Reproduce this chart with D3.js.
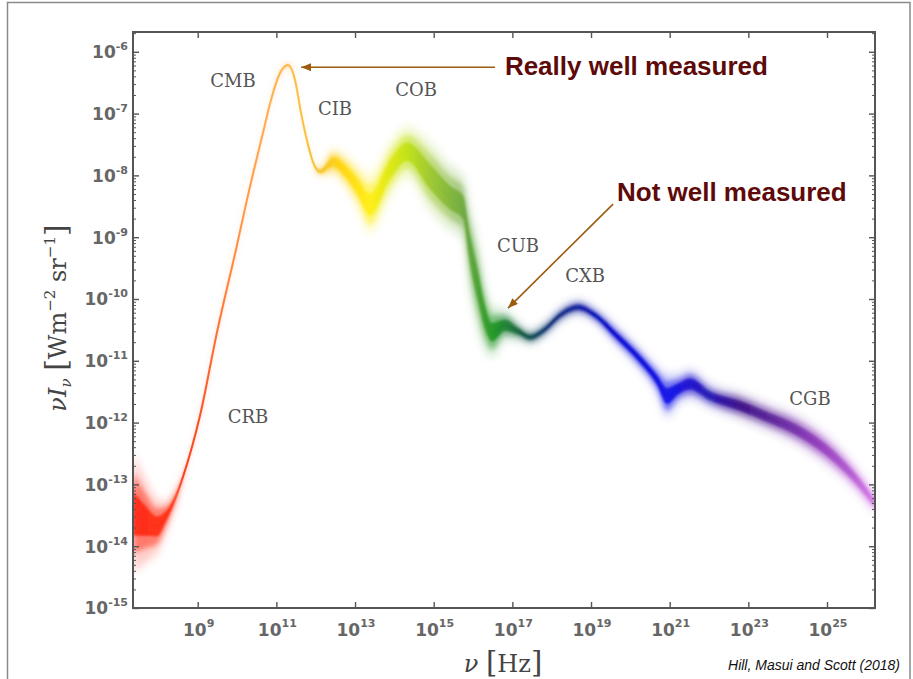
<!DOCTYPE html>
<html>
<head>
<meta charset="utf-8">
<script src="https://cdn.jsdelivr.net/npm/d3@7"></script>
<style>
  body { margin: 0; background: #fff; }
  svg { display: block; }
</style>
</head>
<body>
<svg id="chart" width="913" height="679"></svg>
<script>
// log10 of frequency [Hz]
const logNu = [7.355, 7.66, 7.965, 8.194, 8.423, 8.626, 9.058, 9.491, 9.974, 10.254,
  10.66, 10.864, 11.093, 11.296, 11.474, 11.627, 11.805, 11.957, 12.11, 12.44,
  12.745, 13.076, 13.381, 13.89, 14.322, 14.907, 15.415, 15.746, 15.924, 16.127,
  16.305, 16.483, 16.813, 17.144, 17.449, 17.83, 18.212, 18.669, 19.102, 19.661,
  20.17, 20.678, 20.933, 21.212, 21.517, 22.026, 22.789, 23.475, 24.314, 25.153,
  25.662, 26.22]
// log10 of nu I_nu [W m^-2 sr^-1], middle of the band
const logNuI = [-13.47, -13.585, -13.68, -13.52, -13.23, -12.876, -11.89, -10.537, -9.198, -8.392,
  -7.311, -6.779, -6.344, -6.215, -6.456, -6.989, -7.505, -7.827, -7.94, -7.779,
  -7.924, -8.198, -8.473, -7.908, -7.618, -8.021, -8.36, -8.521, -9.198, -9.795,
  -10.295, -10.537, -10.424, -10.521, -10.618, -10.489, -10.263, -10.134, -10.263, -10.602,
  -10.924, -11.311, -11.569, -11.456, -11.376, -11.569, -11.73, -11.908, -12.15, -12.537,
  -12.86, -13.311]
// half width of the band, in decades
const logErr = [0.65, 0.45, 0.29, 0.16, 0.08, 0.03, 0.02, 0.02, 0.02, 0.02,
  0.02, 0.02, 0.02, 0.02, 0.02, 0.02, 0.02, 0.02, 0.05, 0.145,
  0.18, 0.24, 0.32, 0.29, 0.27, 0.37, 0.35, 0.35, 0.45, 0.45,
  0.35, 0.27, 0.16, 0.1, 0.08, 0.08, 0.08, 0.08, 0.08, 0.1,
  0.11, 0.145, 0.23, 0.16, 0.16, 0.13, 0.145, 0.145, 0.16, 0.16,
  0.145, 0.13]

// colour ramp along frequency
const colorNu = [7.35, 8.3, 9.0, 9.8, 10.6, 11.3, 12.1, 12.6, 13.4, 14.3, 15.0, 15.8, 16.5,
  17.2, 17.9, 18.7, 19.6, 21.0, 22.0, 22.8, 23.8, 24.8, 25.6, 26.22]
const colorHex = ["#ff1500", "#ff2000", "#f84010", "#ff7a30", "#ffa040", "#ffb440", "#f5c020", "#ffd000",
  "#ffee00", "#bde000", "#90c020", "#5fa030", "#109010", "#0a5a3a", "#0a3070", "#0a1aa0", "#0000d0",
  "#0000e8", "#1808b0", "#300080", "#5a1a98", "#8a30b8", "#b050d0", "#d878e8"]

const xTickExp = [9, 11, 13, 15, 17, 19, 21, 23, 25]
const yTickExp = [-15, -14, -13, -12, -11, -10, -9, -8, -7, -6]

const bandNames = ["CMB", "CIB", "COB", "CUB", "CXB", "CGB", "CRB"]
const bandLabelNu = [9.898, 12.491, 14.551, 17.144, 18.848, 24.568, 10.279]
const bandLabelI = [-6.458, -6.911, -6.603, -9.127, -9.613, -11.603, -11.894]

const notes = ["Really well measured", "Not well measured"]
const noteTextNu = [16.81, 19.66]
const noteTextI = [-6.376, -8.419]
const noteTailNu = [16.56, 19.56]
const noteTailI = [-6.25, -8.464]
const noteTipNu = [11.63, 16.89]
const noteTipI = [-6.25, -10.147]

const pLeft = 133, pRight = 875, pTop = 32, pBottom = 608

const svg = d3.select("#chart")

const xScale = d3.scaleLog().domain([10 ** 7.355, 10 ** 26.22]).range([pLeft, pRight])
const yScale = d3.scaleLog().domain([1e-15, 10 ** -5.68]).range([pBottom, pTop])

const defs = svg.append("defs")
const pts = logNu.map((v, i) => ({ nu: v, nuI: logNuI[i], err: logErr[i] }))
const xFrac = lx => (xScale(10 ** lx) - pLeft) / (pRight - pLeft)

// spectrum gradient
const grad = defs.append("linearGradient")
  .attr("id", "spec")
  .attr("gradientUnits", "userSpaceOnUse")
  .attr("x1", pLeft).attr("x2", pRight).attr("y1", 0).attr("y2", 0)
grad.selectAll("stop").data(colorNu).join("stop")
  .attr("offset", d => xFrac(d))
  .attr("stop-color", (d, i) => colorHex[i])

// the sharp centre line only shows where the band is narrow
const maskGrad = defs.append("linearGradient")
  .attr("id", "maskGrad")
  .attr("gradientUnits", "userSpaceOnUse")
  .attr("x1", pLeft).attr("x2", pRight).attr("y1", 0).attr("y2", 0)
maskGrad.selectAll("stop").data(pts).join("stop")
  .attr("offset", d => xFrac(d.nu))
  .attr("stop-color", "#fff")
  .attr("stop-opacity", d => Math.max(0.08, Math.min(1, 0.04 / d.err)))
defs.append("mask").attr("id", "lineMask")
  .attr("maskUnits", "userSpaceOnUse")
  .attr("x", 0).attr("y", 0).attr("width", 913).attr("height", 679)
  .append("rect").attr("x", 0).attr("y", 0).attr("width", 913).attr("height", 679)
  .attr("fill", "url(#maskGrad)")

function blur(id, s) {
  defs.append("filter").attr("id", id)
    .attr("x", "-10%").attr("y", "-20%").attr("width", "120%").attr("height", "140%")
    .append("feGaussianBlur").attr("stdDeviation", s)
}
blur("b4", 4.5)
blur("b2", 2.5)
blur("b1", 1.3)
blur("b0", 0.5)

defs.append("clipPath").attr("id", "plotClip")
  .append("rect").attr("x", pLeft).attr("y", pTop)
  .attr("width", pRight - pLeft).attr("height", pBottom - pTop)

defs.append("marker").attr("id", "arrow")
  .attr("markerUnits", "userSpaceOnUse")
  .attr("markerWidth", 12).attr("markerHeight", 10)
  .attr("refX", 10).attr("refY", 4)
  .attr("orient", "auto")
  .append("path").attr("d", "M0,0 L10,4 L0,8 Z").attr("fill", "#9c5b0e")

// figure frame
svg.append("rect")
  .attr("x", 7.5).attr("y", 2.5).attr("width", 902.5).attr("height", 700)
  .attr("fill", "none").attr("stroke", "#8a8a8a").attr("stroke-width", 1.5)

const bandArea = k => d3.area()
  .curve(d3.curveMonotoneX)
  .x(d => xScale(10 ** d.nu))
  .y0(d => yScale(10 ** (d.nuI - d.err * k)))
  .y1(d => yScale(10 ** (d.nuI + d.err * k)))

const centreLine = d3.line()
  .curve(d3.curveMonotoneX)
  .x(d => xScale(10 ** d.nu))
  .y(d => yScale(10 ** d.nuI))

const plot = svg.append("g").attr("clip-path", "url(#plotClip)")

// fuzzy band, drawn as several blurred layers
const layers = [
  { k: 1.5, op: 0.22, f: "b4" },
  { k: 1.0, op: 0.45, f: "b2" },
  { k: 0.55, op: 0.75, f: "b1" }
]
layers.forEach(l => {
  plot.append("path")
    .attr("d", bandArea(l.k)(pts))
    .attr("fill", "url(#spec)")
    .attr("opacity", l.op)
    .attr("filter", "url(#" + l.f + ")")
})
plot.append("g").attr("mask", "url(#lineMask)")
  .append("path")
  .attr("d", centreLine(pts))
  .attr("fill", "none")
  .attr("stroke", "url(#spec)")
  .attr("stroke-width", 2)
  .attr("opacity", 0.9)
  .attr("filter", "url(#b0)")

// axes: ticks pointing inward on all four sides
const yMinor = []
yTickExp.forEach(e => {
  for (let m = 2; m <= 9; m++) {
    const v = m * 10 ** e
    if (v < 10 ** -5.68) yMinor.push(v)
  }
})
const yMajor = yTickExp.map(e => 10 ** e)
const xMajor = xTickExp.map(e => 10 ** e)

function addAxis(axis, tx, ty, w) {
  const g = svg.append("g").attr("transform", `translate(${tx},${ty})`).call(axis)
  g.select(".domain").remove()
  g.selectAll(".tick line").attr("stroke", "#555").attr("stroke-width", w)
  return g
}
addAxis(d3.axisBottom(xScale).tickValues(xMajor).tickSize(-6).tickFormat(""), 0, pBottom, 1.4)
addAxis(d3.axisTop(xScale).tickValues(xMajor).tickSize(-6).tickFormat(""), 0, pTop, 1.4)
addAxis(d3.axisLeft(yScale).tickValues(yMajor).tickSize(-6).tickFormat(""), pLeft, 0, 1.4)
addAxis(d3.axisRight(yScale).tickValues(yMajor).tickSize(-6).tickFormat(""), pRight, 0, 1.4)
addAxis(d3.axisLeft(yScale).tickValues(yMinor).tickSize(-3).tickFormat(""), pLeft, 0, 1)
addAxis(d3.axisRight(yScale).tickValues(yMinor).tickSize(-3).tickFormat(""), pRight, 0, 1)

svg.append("rect")
  .attr("x", pLeft).attr("y", pTop)
  .attr("width", pRight - pLeft).attr("height", pBottom - pTop)
  .attr("fill", "none").attr("stroke", "#555").attr("stroke-width", 2)

// tick labels
const tickFont = "'DejaVu Sans', sans-serif"
svg.append("g").selectAll("text").data(yTickExp).join("text")
  .attr("x", 128)
  .attr("y", d => yScale(10 ** d))
  .attr("dy", "0.38em")
  .attr("text-anchor", "end")
  .attr("font-family", tickFont)
  .attr("font-weight", "bold")
  .attr("font-size", 17)
  .attr("fill", "#666")
  .each(function (d) {
    const t = d3.select(this)
    t.append("tspan").text("10")
    t.append("tspan").attr("font-size", 11).attr("dy", -8).text("-" + (-d))
  })

svg.append("g").selectAll("text").data(xTickExp).join("text")
  .attr("x", d => xScale(10 ** d) + 1)
  .attr("y", 636)
  .attr("text-anchor", "middle")
  .attr("font-family", tickFont)
  .attr("font-weight", "bold")
  .attr("font-size", 17)
  .attr("fill", "#666")
  .each(function (d) {
    const t = d3.select(this)
    t.append("tspan").text("10")
    t.append("tspan").attr("font-size", 11).attr("dy", -9).text(d)
  })

// axis titles
const serif = "'DejaVu Serif', 'Liberation Serif', serif"
const xt = svg.append("text")
  .attr("x", 503).attr("y", 672)
  .attr("text-anchor", "middle")
  .attr("font-family", serif).attr("font-size", 24).attr("fill", "#444")
xt.append("tspan").attr("font-style", "italic").text("ν ")
xt.append("tspan").attr("font-size", 29).text("[")
xt.append("tspan").text("Hz")
xt.append("tspan").attr("font-size", 29).text("]")

const yt = svg.append("text")
  .attr("transform", "translate(66,318) rotate(-90)")
  .attr("text-anchor", "middle")
  .attr("font-family", serif).attr("font-size", 24).attr("fill", "#444")
yt.append("tspan").attr("font-style", "italic").text("νI")
yt.append("tspan").attr("font-style", "italic").attr("font-size", 15).attr("dy", 5).text("ν")
yt.append("tspan").attr("dy", -5).text(" ")
yt.append("tspan").attr("font-size", 30).text("[")
yt.append("tspan").text("Wm")
yt.append("tspan").attr("font-size", 15).attr("dy", -11).text("−2")
yt.append("tspan").attr("dy", 11).text(" sr")
yt.append("tspan").attr("font-size", 15).attr("dy", -11).text("−1")
yt.append("tspan").attr("font-size", 30).attr("dy", 11).text("]")

// background names
svg.append("g").selectAll("text").data(bandNames).join("text")
  .attr("x", (d, i) => xScale(10 ** bandLabelNu[i]))
  .attr("y", (d, i) => yScale(10 ** bandLabelI[i]))
  .attr("dy", "0.36em")
  .attr("text-anchor", "middle")
  .attr("font-family", serif)
  .attr("font-size", 18)
  .attr("fill", "#555")
  .text(d => d)

// annotations
notes.forEach((n, i) => {
  svg.append("line")
    .attr("x1", xScale(10 ** noteTailNu[i])).attr("y1", yScale(10 ** noteTailI[i]))
    .attr("x2", xScale(10 ** noteTipNu[i])).attr("y2", yScale(10 ** noteTipI[i]))
    .attr("stroke", "#9c5b0e").attr("stroke-width", 1.6)
    .attr("marker-end", "url(#arrow)")
  svg.append("text")
    .attr("x", xScale(10 ** noteTextNu[i])).attr("y", yScale(10 ** noteTextI[i]))
    .attr("font-family", "'Liberation Sans', Arial, sans-serif")
    .attr("font-weight", "bold")
    .attr("font-size", 26)
    .attr("fill", "#5e0a0a")
    .text(n)
})

svg.append("text")
  .attr("x", 900).attr("y", 670)
  .attr("text-anchor", "end")
  .attr("font-family", "'Liberation Sans', Arial, sans-serif")
  .attr("font-style", "italic")
  .attr("font-size", 14)
  .attr("fill", "#111")
  .text("Hill, Masui and Scott (2018)")
</script>
</body>
</html>
